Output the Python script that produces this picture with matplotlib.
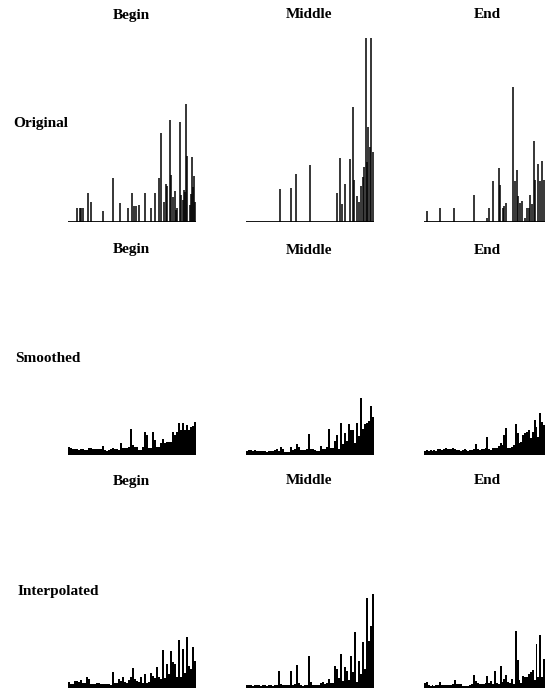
import matplotlib
matplotlib.use("Agg")
import matplotlib.pyplot as plt
import numpy as np

# Heights in pixel units above each baseline.
COLUMNS = ["Begin", "Middle", "End"]
ROWS = ["Original", "Smoothed", "Interpolated"]

# Original: sparse spikes (position across panel, height)
orig_begin_pos = [9, 11.6, 13.3, 15, 20, 23.3, 35, 45, 51.6, 60, 64, 66, 68, 70.6,
                  76.6, 83.3, 86.6, 91, 93.3, 96, 97.5, 99.3, 101.6, 103.3, 105,
                  106.6, 108, 109.3, 111.6, 113.3, 115, 116, 117, 118.3, 119.3,
                  121.6, 122.5, 124, 125, 126, 127]
orig_begin_h = [14, 14, 14, 14, 29, 20, 11, 44, 19, 14, 29, 16, 16, 17,
                29, 14, 29, 44, 89, 20, 38, 36, 102, 47, 25,
                31, 12, 14, 100, 27, 22, 32, 30, 118, 66,
                17, 28, 65, 35, 46, 20]

orig_middle_pos = [33.3, 45, 50, 63.3, 90.3, 93.6, 95, 98.3, 103.3, 106, 107.6,
                   110.3, 112.6, 114.3, 116, 117, 118.6, 120, 121, 122.6, 124.3, 126]
orig_middle_h = [33, 34, 48, 57, 29, 64, 18, 38, 63, 115, 42,
                 26, 20, 36, 45, 55, 184, 60, 95, 75, 184, 70]

orig_end_pos = [2.7, 16, 30, 50, 64, 65.3, 70, 75.3, 76.6, 79.3, 80.6, 82.3, 90,
                91.7, 93.3, 95, 96.7, 99.3, 101.7, 104, 105.7, 107.3, 109, 110.7,
                112.3, 114.7, 116.7, 119, 120.7]
orig_end_h = [11, 14, 14, 27, 4, 14, 41, 54, 37, 14, 16, 19, 135,
              41, 52, 26, 19, 21, 4, 14, 14, 27, 18, 81,
              42, 58, 41, 61, 42]

# Smoothed / Interpolated: 64 bins each
smooth_begin = [8, 7, 6, 6, 6, 5, 6, 6, 5, 5, 7, 7, 6, 6, 6, 6, 6, 9, 5, 4, 5, 6,
                7, 6, 6, 5, 12, 7, 7, 7, 8, 26, 10, 8, 8, 5, 5, 8, 23, 20, 7, 7,
                23, 15, 8, 8, 12, 16, 12, 13, 13, 13, 23, 20, 23, 32, 25, 32, 25,
                30, 25, 28, 29, 33]
smooth_middle = [4, 5, 5, 4, 5, 4, 4, 4, 4, 4, 3, 4, 4, 4, 5, 6, 4, 8, 6, 3, 3, 3,
                 8, 5, 6, 11, 8, 5, 5, 5, 6, 21, 6, 6, 5, 4, 4, 9, 6, 6, 8, 26,
                 7, 7, 14, 20, 6, 32, 11, 22, 14, 31, 25, 25, 12, 32, 19, 57, 26,
                 31, 32, 34, 49, 38]
smooth_end = [4, 5, 4, 5, 4, 5, 4, 6, 6, 5, 6, 7, 6, 6, 6, 7, 6, 5, 5, 4, 5, 6,
              5, 4, 5, 5, 6, 11, 6, 5, 6, 6, 7, 18, 6, 5, 7, 7, 7, 9, 12, 10,
              20, 27, 7, 7, 8, 10, 31, 22, 12, 13, 20, 22, 23, 25, 17, 23, 35,
              28, 18, 42, 33, 30]
interp_begin = [6, 4, 4, 7, 7, 6, 8, 5, 5, 11, 9, 4, 4, 4, 5, 5, 4, 4, 4, 4, 4, 3,
                16, 5, 5, 9, 7, 11, 6, 5, 8, 11, 20, 9, 7, 6, 11, 5, 14, 5, 6, 15,
                12, 10, 21, 11, 9, 38, 10, 24, 14, 37, 26, 24, 11, 48, 11, 39, 15,
                51, 22, 19, 41, 27]
interp_middle = [3, 3, 3, 2, 3, 3, 3, 2, 3, 3, 2, 3, 3, 2, 3, 3, 17, 4, 3, 3, 3, 3,
                 17, 3, 4, 23, 5, 3, 2, 3, 3, 32, 6, 3, 3, 3, 3, 5, 6, 4, 5, 9,
                 5, 5, 22, 19, 10, 34, 7, 21, 17, 8, 32, 16, 56, 6, 27, 14, 46,
                 19, 90, 47, 62, 94]
interp_end = [5, 6, 3, 2, 3, 2, 3, 3, 6, 3, 3, 3, 3, 3, 3, 4, 8, 4, 4, 4, 2, 2,
              2, 2, 3, 4, 13, 7, 5, 4, 4, 4, 5, 12, 5, 7, 4, 17, 5, 4, 22, 6,
              9, 13, 6, 5, 9, 4, 57, 28, 8, 5, 12, 11, 11, 14, 16, 18, 8, 44,
              11, 53, 11, 29]

sparse = {
    "Begin": (orig_begin_pos, orig_begin_h),
    "Middle": (orig_middle_pos, orig_middle_h),
    "End": (orig_end_pos, orig_end_h),
}
dense = {
    "Smoothed": [smooth_begin, smooth_middle, smooth_end],
    "Interpolated": [interp_begin, interp_middle, interp_end],
}

W, H = 545, 691
fig = plt.figure(figsize=(W / 100, H / 100), dpi=100)
font = dict(family="Liberation Serif", fontweight="bold", fontsize=11)

col_x = [(68, 196), (246, 374), (424, 545)]      # pixel extents of panels
orig_xmax = [128, 127, 122]
baselines = [221.5, 455, 687.5]
title_y = [15, 250, 481]
title_x = [131, 309, 487]
label_pos = [(13, 124), (15, 358), (18, 591)]
panel_h = 190

for r, row in enumerate(ROWS):
    fig.text(label_pos[r][0] / W, 1 - label_pos[r][1] / H, row,
             ha="left", va="center", **font)
    for c, col in enumerate(COLUMNS):
        fig.text(title_x[c] / W, 1 - title_y[r] / H, col,
                 ha="center", va="center", **font)
        x0, x1 = col_x[c]
        y0 = 1 - baselines[r] / H
        ax = fig.add_axes([x0 / W, y0, (x1 - x0) / W, panel_h / H])
        if row == "Original":
            pos, h = sparse[col]
            ax.vlines(pos, 0, h, color="black", linewidth=1.1)
            ax.set_xlim(0, orig_xmax[c])
        else:
            vals = dense[row][c]
            ax.bar(np.arange(len(vals)), vals, width=1.0, color="black",
                   linewidth=0)
            ax.set_xlim(-0.5, len(vals) - 0.5)
        ax.axhline(0, color="black", linewidth=2.0)
        ax.set_ylim(0, panel_h)
        ax.axis("off")

fig.savefig("out.png", dpi=100)
